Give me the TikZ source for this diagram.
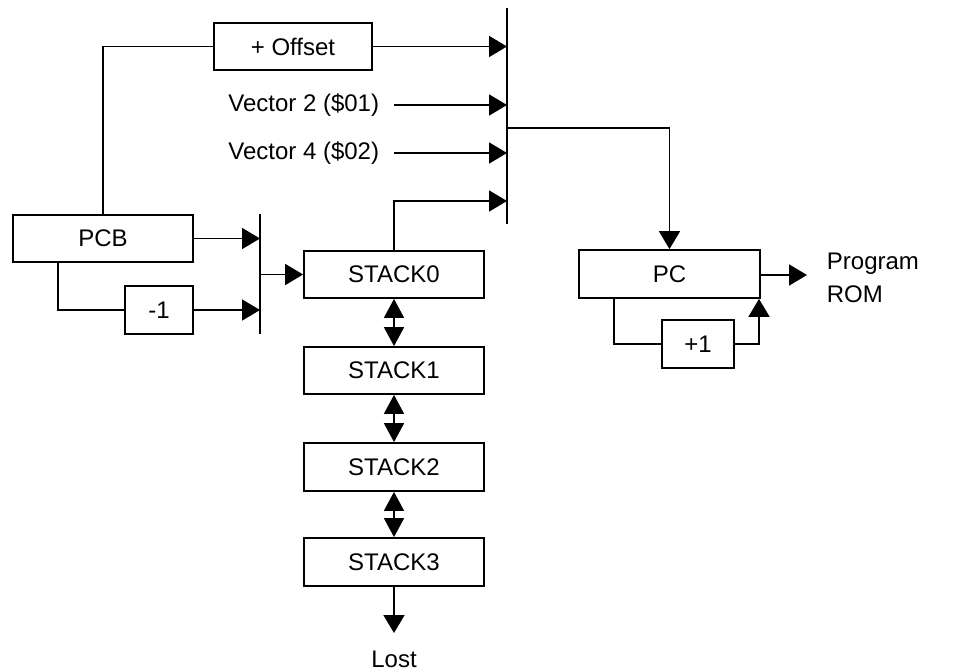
\documentclass[tikz,border=0pt]{standalone}
\usepackage{fontspec}
\setmainfont{Liberation Sans}
\usetikzlibrary{arrows.meta}
\begin{document}
\begin{tikzpicture}[x=1pt,y=-1pt,
  line width=1.8pt,
  font=\fontsize{24}{29}\selectfont,
  box/.style={draw, rectangle, inner sep=0pt},
  lbl/.style={inner sep=0pt},
  arr/.style={-{Triangle[length=18pt,width=21pt]}},
  dbl/.style={{Triangle[length=19pt,width=20pt]}-{Triangle[length=19pt,width=20pt]}},
  bar/.style={line width=1.8pt}]
\useasboundingbox (0,0) rectangle (954,672);

% boxes
\node[box, minimum width=158pt, minimum height=47pt] (offset) at (293,46.5) {+ Offset};
\node[box, minimum width=180pt, minimum height=47pt] (pcb) at (103,238.5) {PCB};
\node[box, minimum width=68pt, minimum height=48pt] (m1) at (159,310) {-1};
\node[box, minimum width=180pt, minimum height=47pt] (s0) at (394,274.5) {STACK0};
\node[box, minimum width=180pt, minimum height=47pt] (s1) at (394,370.5) {STACK1};
\node[box, minimum width=180pt, minimum height=48pt] (s2) at (394,467) {STACK2};
\node[box, minimum width=180pt, minimum height=48pt] (s3) at (394,562) {STACK3};
\node[box, minimum width=181pt, minimum height=48pt] (pc) at (669.5,274) {PC};
\node[box, minimum width=72pt, minimum height=48pt] (p1) at (698,344) {+1};

% labels
\node[lbl, anchor=east] (v2) at (380,105) {Vector 2 (\$01)};
\node[lbl, anchor=east] (v4) at (380,153) {Vector 4 (\$02)};
\node[lbl, anchor=base west] (prog) at (826,269) {Program};
\node[lbl, anchor=base west] (rom) at (826,302) {ROM};
\node[lbl, anchor=base] (lost) at (394,667) {Lost};

% multiplexer bars
\coordinate (b1t) at (260,214);
\coordinate (b1b) at (260,334);
\coordinate (b2t) at (507,8);
\coordinate (b2b) at (507,224);
\coordinate (b2in4) at (507,201);
\coordinate (b2out) at (507,128);
\coordinate (romin) at (807,275);
\coordinate (lostin) at (394,633);
\draw[bar] (b1t) -- (b1b);
\draw[bar] (b2t) -- (b2b);

% connectors
\draw (pcb.north) |- (offset.west);
\draw[arr] (offset.east) -- (offset.east -| b2t);
\draw[arr] ([xshift=14pt]v2.east) -- (v2.east -| b2t);
\draw[arr] ([xshift=14pt]v4.east) -- (v4.east -| b2t);
\draw[arr] (s0.north) |- (b2in4);
\draw[arr] (b2out) -| (pc.north);

\draw[arr] (pcb.east) -- (pcb.east -| b1t);
\draw ([xshift=-45pt]pcb.south) |- (m1.west);
\draw[arr] (m1.east) -- (m1.east -| b1t);
\draw[arr] (s0.west -| b1t) -- (s0.west);

\draw[dbl] (s0.south) -- (s1.north);
\draw[dbl] (s1.south) -- (s2.north);
\draw[dbl] (s2.south) -- (s3.north);
\draw[arr] (s3.south) -- (lostin);

\draw[arr] (pc.east |- romin) -- (romin);
\draw ([xshift=-55.5pt]pc.south) |- (p1.west);
\draw[arr] (p1.east) -| ([xshift=89.5pt]pc.south);
\end{tikzpicture}
\end{document}
